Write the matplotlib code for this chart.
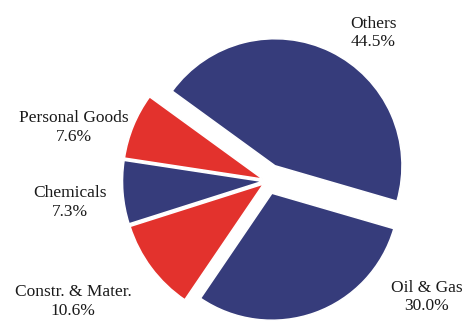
import matplotlib
matplotlib.use("Agg")
import matplotlib.pyplot as plt

# Sector weights (%)
sectors = ["Others", "Oil & Gas", "Constr. & Mater.", "Chemicals", "Personal Goods"]
shares = [44.5, 30.0, 10.6, 7.3, 7.6]

# Styling per wedge
colors = ["#363c7b", "#363c7b", "#e3322d", "#363c7b", "#e3322d"]
pull_out = [17, 13, 5, 5, 5]          # explode distance in px
wedge_r = [127, 127, 140, 140, 140]   # wedge radius in px

# Label anchors (axes pixels, origin bottom-left)
label_xy = [(373.5, 288), (427, 24), (73, 19.5), (69.5, 118.5), (73.5, 193.5)]

plt.rcParams["font.family"] = ["Liberation Serif", "DejaVu Serif"]

fig = plt.figure(figsize=(4.65, 3.21), dpi=100)
ax = fig.add_axes([0, 0, 1, 1])

wedges, _ = ax.pie(
    shares,
    colors=colors,
    explode=pull_out,
    radius=127,
    center=(267.5, 140),
    startangle=144,
    counterclock=False,
    wedgeprops=dict(linewidth=1.1, edgecolor="white", joinstyle="round"),
)
for w, r in zip(wedges, wedge_r):
    w.set_radius(r)

for name, val, (x, y) in zip(sectors, shares, label_xy):
    ax.text(x, y, f"{name}\n{val:.1f}%", ha="center", va="center",
            fontsize=12.5, linespacing=1.18, color="#1a1a1a")

ax.set_xlim(0, 465)
ax.set_ylim(0, 321)
ax.set_aspect("auto")
ax.axis("off")

fig.savefig("out.png", dpi=100, facecolor="white")
